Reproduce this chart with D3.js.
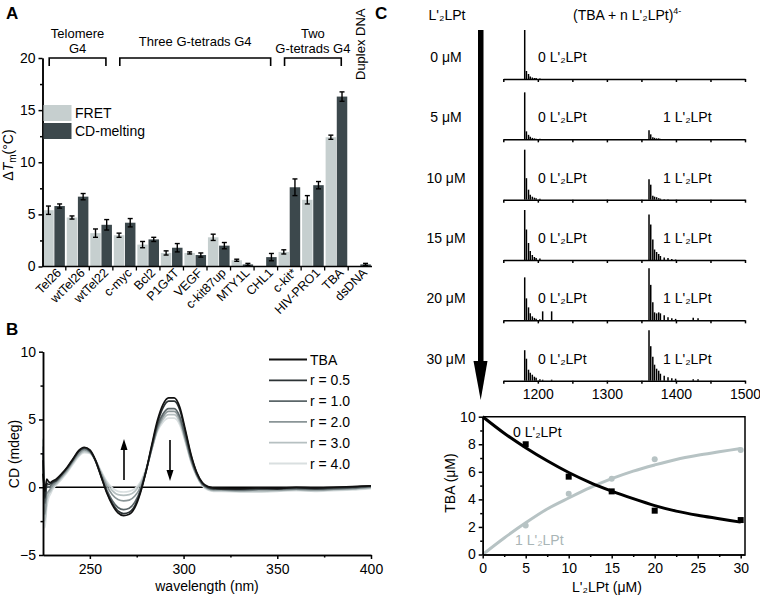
<!DOCTYPE html>
<html><head><meta charset="utf-8">
<script src="https://cdn.jsdelivr.net/npm/d3@7"></script>
<style>
body{margin:0;background:#fff}
svg{font-family:"Liberation Sans",Arial,sans-serif}
.ax path,.ax line{stroke:#000;stroke-width:1.5}
.ax text{font-size:14px;fill:#000;font-family:"Liberation Sans",Arial,sans-serif}
</style>
</head><body><svg id="c" width="760" height="597"></svg>
<script>
// ---------- Panel A data ----------
const categoriesA = ["Tel26","wtTel26","wtTel22","c-myc","Bcl2","P1G4T","VEGF","c-kit87up","MTY1L","CHL1","c-kit*","HIV-PRO1","TBA","dsDNA"];
const fretValues = [5.4,4.7,3.2,3.0,2.1,1.3,1.3,2.8,0.6,0.05,1.4,6.4,12.4,0];
const fretErrors = [0.4,0.15,0.4,0.2,0.3,0.2,0.1,0.3,0.1,0,0.2,0.4,0.2,0];
const cdValues   = [5.8,6.7,4.0,4.2,2.6,1.8,1.1,2.0,0.2,0.9,7.6,7.8,16.3,0.2];
const cdErrors   = [0.2,0.3,0.5,0.4,0.2,0.4,0.2,0.3,0.1,0.35,0.8,0.35,0.45,0.1];
const yTicksA = [0,5,10,15,20];
const groupsA = [
  {label:["Telomere","G4"], first:"Tel26", last:"wtTel22"},
  {label:["Three G-tetrads G4"], first:"c-myc", last:"CHL1"},
  {label:["Two","G-tetrads G4"], first:"c-kit*", last:"TBA"}
];
const duplexLabel = "Duplex DNA";
const seriesA = ["FRET","CD-melting"];

// ---------- Panel B data ----------
const wavelengths = [225,226,227,228,229,230,232,235,238,241,244,247,250,253,256,259,262,265,268,271,274,277,280,283,286,289,292,295,298,301,304,307,310,313,316,320,330,340,350,360,370,380,390,400];
const cdTBA = [1.0,-0.3,0.6,0.4,0.35,0.45,0.6,1.0,1.5,2.1,2.7,2.95,2.75,2.0,0.8,-0.4,-1.3,-1.9,-2.1,-2.0,-1.5,-0.4,1.2,3.1,4.9,6.1,6.6,6.6,5.9,4.2,2.4,1.1,0.35,0.05,-0.05,-0.1,-0.1,-0.05,-0.1,0.0,-0.05,0.0,0.05,0.1];
const cdR05 = [2.0,-0.8,0.3,0.2,0.25,0.35,0.5,0.95,1.45,2.05,2.65,2.9,2.7,1.95,0.8,-0.35,-1.2,-1.75,-1.95,-1.85,-1.35,-0.3,1.2,3.0,4.7,5.85,6.35,6.35,5.7,4.05,2.3,1.05,0.3,0.0,-0.1,-0.1,-0.15,-0.1,-0.1,-0.05,-0.1,-0.05,0.0,0.1];
const cdR10 = [2.5,-1.2,0.1,0.0,0.1,0.25,0.45,0.9,1.4,2.0,2.6,2.85,2.65,1.95,0.85,-0.2,-1.0,-1.5,-1.65,-1.55,-1.1,-0.2,1.2,2.9,4.5,5.4,5.8,5.8,5.2,3.7,2.1,0.95,0.25,-0.05,-0.15,-0.15,-0.2,-0.15,-0.15,-0.1,-0.15,-0.1,-0.05,0.05];
const cdR20 = [3.0,-2.0,-0.5,-0.3,-0.1,0.1,0.35,0.8,1.3,1.9,2.45,2.75,2.6,2.0,1.0,0.1,-0.55,-0.9,-1.0,-0.95,-0.65,0.0,1.2,2.8,4.3,5.2,5.6,5.6,5.0,3.55,2.0,0.9,0.2,-0.1,-0.2,-0.2,-0.25,-0.2,-0.2,-0.15,-0.2,-0.15,-0.1,0.0];
const cdR30 = [3.5,-2.5,-1.0,-0.5,-0.3,-0.05,0.25,0.7,1.2,1.8,2.35,2.65,2.55,2.0,1.1,0.3,-0.25,-0.55,-0.6,-0.55,-0.3,0.25,1.3,2.8,4.2,5.0,5.35,5.35,4.8,3.4,1.9,0.85,0.15,-0.15,-0.25,-0.25,-0.3,-0.3,-0.25,-0.2,-0.25,-0.2,-0.15,-0.05];
const cdR40 = [3.6,-3.0,-1.5,-0.8,-0.5,-0.2,0.15,0.6,1.1,1.7,2.25,2.55,2.5,2.0,1.2,0.45,-0.05,-0.3,-0.35,-0.3,-0.1,0.4,1.4,2.8,4.1,4.8,5.1,5.1,4.6,3.3,1.85,0.8,0.1,-0.2,-0.3,-0.3,-0.35,-0.35,-0.3,-0.25,-0.3,-0.25,-0.2,-0.1];
const seriesBNames = ["TBA","r = 0.5","r = 1.0","r = 2.0","r = 3.0","r = 4.0"];
const seriesBValues = [cdTBA,cdR05,cdR10,cdR20,cdR30,cdR40];
const seriesBColors = ["#111111","#2c3335","#5b6669","#8a9597","#b6c0c1","#d9dfe0"];
const yTicksB = [-5,0,5,10];
const xTicksB = [250,300,350,400];

// ---------- Panel C (top) data ----------
const concLabels = ["0 \u03bcM","5 \u03bcM","10 \u03bcM","15 \u03bcM","20 \u03bcM","30 \u03bcM"];
const mzTicks = [1150,1200,1250,1300,1350,1400,1450,1500];
const mzLabels = [1200,1300,1400,1500];
const peakMz = [1181,1183.5,1186.5,1189,1192,1195,1197.5,1203,1207,1220,1361,1363.5,1366.5,1369,1372,1375,1377.5,1383,1388.5,1394,1399.5,1425,1432];
const int0uM  = [98,16,10,5,3,2,2,1,0,0, 0,0,0,0,0,0,0,0,0,0,0,0,0];
const int5uM  = [94,16,9,5,3,2,1,1,0,0, 18,10,4,3,2,2,1,0,0,0,0,0,0];
const int10uM = [100,43,20,10,6,4,3,2,0,0, 41,30,8,6,5,3,2,1,1,0,0,0,0];
const int15uM = [100,61,34,18,10,6,4,3,0,0, 91,71,41,21,16,12,8,5,4,2,1,0,0];
const int20uM = [86,44,26,14,8,5,3,2,18,18, 104,71,36,16,14,16,14,10,6,4,3,5,4];
const int30uM = [61,44,22,16,12,8,6,3,2,2, 101,69,48,32,24,20,14,10,7,5,4,3,3];
const spectra = [int0uM,int5uM,int10uM,int15uM,int20uM,int30uM];

// ---------- Panel C (bottom) data ----------
const ligandConc = [5,10,15,20,30];
const tba0 = [8.0,5.65,4.58,3.18,2.5];
const tba1 = [2.1,4.41,5.49,6.92,7.59];
const fitX  = [0,2.5,5,7.5,10,12.5,15,17.5,20,22.5,25,27.5,30];
const fit0  = [10,8.8,7.75,6.8,5.95,5.22,4.6,4.05,3.55,3.15,2.85,2.6,2.35];
const fit1  = [0,1.2,2.3,3.3,4.1,4.85,5.5,6.05,6.5,6.9,7.2,7.45,7.7];
const xTicksC = [0,5,10,15,20,25,30];
const yTicksC = [0,2,4,6,8,10];

const FONT = '"Liberation Sans",Arial,sans-serif';
const svg = d3.select("#c");
function txt(x,y,s,opts={}){
  const t = svg.append("text").attr("x",x).attr("y",y).text(s)
    .attr("font-size",opts.size||14).attr("fill",opts.fill||"#000")
    .attr("text-anchor",opts.anchor||"start").attr("font-family",FONT);
  if(opts.weight) t.attr("font-weight",opts.weight);
  return t;
}

// ================= PANEL A =================
const FRET_C = "#c6cfcf", CD_C = "#3c484c";
txt(6,19,"A",{size:17,weight:"bold"});
const xA = d3.scaleBand().domain(categoriesA).range([42.5,371.5]).paddingInner(0.08).paddingOuter(0.03);
const xA1 = d3.scaleBand().domain(seriesA).range([0,xA.bandwidth()]).paddingInner(0.06);
const yA = d3.scaleLinear().domain([0,20]).range([266.5,58]);

const gA = svg.append("g");
categoriesA.forEach((c,i)=>{
  [[fretValues[i],fretErrors[i],"FRET",FRET_C],[cdValues[i],cdErrors[i],"CD-melting",CD_C]].forEach(([v,e,s,col])=>{
    const x = xA(c)+xA1(s), w = xA1.bandwidth();
    gA.append("rect").attr("x",x).attr("y",yA(v)).attr("width",w).attr("height",yA(0)-yA(v)).attr("fill",col);
    if(e>0){
      const cx = x+w/2;
      gA.append("line").attr("x1",cx).attr("x2",cx).attr("y1",yA(v-e)).attr("y2",yA(v+e)).attr("stroke","#000").attr("stroke-width",1.4);
      [v-e,v+e].forEach(t=>gA.append("line").attr("x1",cx-2.5).attr("x2",cx+2.5).attr("y1",yA(t)).attr("y2",yA(t)).attr("stroke","#000").attr("stroke-width",1.4));
    }
  });
});
// y axis
svg.append("g").attr("class","ax").attr("transform","translate(42.5,0)")
  .call(d3.axisLeft(yA).tickValues(yTicksA).tickSize(4).tickSizeOuter(0).tickPadding(3));
svg.append("g").attr("class","ax").attr("transform","translate(42.5,0)")
  .call(d3.axisLeft(yA).tickValues([2.5,7.5,12.5,17.5]).tickSize(2.5).tickSizeOuter(0).tickFormat(""));
// x axis
svg.append("line").attr("x1",42.5).attr("x2",372).attr("y1",yA(0)).attr("y2",yA(0)).attr("stroke","#000").attr("stroke-width",1.5);
const stepA = xA.step();
categoriesA.forEach((c,i)=>{
  if(i>0){
    const bx = xA(c)-stepA*0.04;
    svg.append("line").attr("x1",bx).attr("x2",bx).attr("y1",yA(0)).attr("y2",yA(0)+4).attr("stroke","#000").attr("stroke-width",1.3);
  }
  const cx = xA(c)+xA.bandwidth()/2;
  svg.append("text").attr("transform",`translate(${cx+8},${yA(0)+7}) rotate(-45)`)
    .attr("text-anchor","end").attr("font-size",12.5).attr("font-family",FONT).text(c);
});
// y label
const yl = svg.append("text").attr("transform","translate(13,155) rotate(-90)").attr("text-anchor","middle")
  .attr("font-size",14).attr("font-family",FONT);
yl.append("tspan").text("\u0394");
yl.append("tspan").attr("font-style","italic").text("T");
yl.append("tspan").attr("font-size",10).attr("dy",3).text("m");
yl.append("tspan").attr("dy",-3).text("(\u00b0C)");
// legend
seriesA.forEach((s,i)=>{
  svg.append("rect").attr("x",43.5).attr("y",105+i*18).attr("width",28).attr("height",16).attr("fill",i?CD_C:FRET_C);
  txt(75,118+i*18,s,{size:14});
});
// group brackets
groupsA.forEach(g=>{
  const x0 = xA(g.first)+6, x1 = xA(g.last)+xA.bandwidth()-6;
  svg.append("path").attr("d",`M${x0},66V58H${x1}V66`).attr("fill","none").attr("stroke","#000").attr("stroke-width",1.6);
  const mid = (x0+x1)/2;
  if(g.label.length===2){ txt(mid,38,g.label[0],{anchor:"middle",size:13}); txt(mid,53,g.label[1],{anchor:"middle",size:13}); }
  else txt(mid,46,g.label[0],{anchor:"middle",size:13});
});
svg.append("text").attr("transform","translate(365,80) rotate(-90)").attr("font-size",13).attr("font-family",FONT).text(duplexLabel);

// ================= PANEL B =================
txt(6,335,"B",{size:17,weight:"bold"});
const xB = d3.scaleLinear().domain([225,400]).range([43,371]);
const yB = d3.scaleLinear().domain([-5,10]).range([555,351.7]);
svg.append("line").attr("x1",xB(225)).attr("x2",xB(400)).attr("y1",yB(0)).attr("y2",yB(0)).attr("stroke","#000").attr("stroke-width",1.4);
const lineB = d3.line().x((d,i)=>xB(wavelengths[i])).y(d=>yB(d)).curve(d3.curveMonotoneX);
for(let k=seriesBValues.length-1;k>=0;k--){
  svg.append("path").attr("d",lineB(seriesBValues[k])).attr("fill","none").attr("stroke",seriesBColors[k]).attr("stroke-width",1.7);
}
svg.append("g").attr("class","ax").attr("transform","translate(43,0)")
  .call(d3.axisLeft(yB).tickValues(yTicksB).tickSize(4).tickSizeOuter(0).tickPadding(3));
svg.append("g").attr("class","ax").attr("transform","translate(43,0)")
  .call(d3.axisLeft(yB).tickValues([-2.5,2.5,7.5]).tickSize(2.5).tickSizeOuter(0).tickFormat(""));
svg.append("g").attr("class","ax").attr("transform","translate(0,555)")
  .call(d3.axisBottom(xB).tickValues(xTicksB).tickSize(4).tickSizeOuter(0).tickPadding(5));
svg.append("g").attr("class","ax").attr("transform","translate(0,555)")
  .call(d3.axisBottom(xB).tickValues([275,325,375]).tickSize(2.5).tickSizeOuter(0).tickFormat(""));
svg.append("text").attr("transform","translate(19,454) rotate(-90)").attr("text-anchor","middle").attr("font-size",14).attr("font-family",FONT).text("CD (mdeg)");
txt(207,591,"wavelength (nm)",{anchor:"middle",size:14});
// arrows
function arrow(x,yFrom,yTo){
  const dir = yTo<yFrom?-1:1;
  svg.append("line").attr("x1",x).attr("x2",x).attr("y1",yFrom).attr("y2",yTo-dir*10).attr("stroke","#000").attr("stroke-width",1.6);
  svg.append("path").attr("d",`M${x-3.5},${yTo-dir*11}L${x+3.5},${yTo-dir*11}L${x},${yTo}Z`).attr("fill","#000");
}
arrow(124,480,439);
arrow(170,440,481);
// legend B
seriesBNames.forEach((n,i)=>{
  const y = 359.5+i*20.8;
  svg.append("line").attr("x1",269).attr("x2",307).attr("y1",y).attr("y2",y).attr("stroke",seriesBColors[i]).attr("stroke-width",1.8);
  txt(310,y+5,n,{size:14});
});

// ================= PANEL C (top) =================
txt(375,19,"C",{size:17,weight:"bold"});
const C1 = "L'\u2082LPt";
txt(447,20,C1,{anchor:"middle",size:14});
const tt = txt(573,20,"(TBA + n "+C1+")",{size:14});
tt.append("tspan").attr("font-size",9).attr("dy",-6).text("4-");
// big arrow
svg.append("rect").attr("x",478).attr("y",30).attr("width",5.5).attr("height",333).attr("fill","#000");
svg.append("path").attr("d","M473.5,361L487.5,361L480.7,400Z").attr("fill","#000");
const xMz = d3.scaleLinear().domain([1150,1500]).range([503.3,745]);
const rowY = d3.scaleLinear().domain([0,5]).range([79,380.7]);
const hScale = d3.scaleLinear().domain([0,100]).range([0,50]);
spectra.forEach((ints,r)=>{
  const base = rowY(r);
  const g = svg.append("g");
  peakMz.forEach((m,j)=>{
    if(ints[j]>0) g.append("line").attr("x1",xMz(m)).attr("x2",xMz(m)).attr("y1",base).attr("y2",base-hScale(ints[j])).attr("stroke","#000").attr("stroke-width",1.5);
  });
  svg.append("g").attr("class","ax").attr("transform",`translate(0,${base})`)
    .call(d3.axisBottom(xMz).tickValues(mzTicks).tickSize(3).tickSizeOuter(0).tickPadding(5)
      .tickFormat(d=> (r===5 && mzLabels.includes(d)) ? d : ""));
  txt(446,base-17,concLabels[r],{anchor:"middle",size:14});
  txt(538,base-17,"0 "+C1,{size:14});
  if(r>0) txt(663,base-17,"1 "+C1,{size:14});
});

// ================= PANEL C (bottom) =================
const xC = d3.scaleLinear().domain([0,30.5]).range([482.7,745]);
const yC = d3.scaleLinear().domain([0,10]).range([554.5,416.7]);
svg.append("path").attr("d",`M${xC(0)},${yC(10)}H${xC(30.5)}V${yC(0)}`).attr("fill","none").attr("stroke","#000").attr("stroke-width",1.5);
const LIGHT = "#b7c3c4";
const lineC = d3.line().x((d,i)=>xC(fitX[i])).y(d=>yC(d)).curve(d3.curveMonotoneX);
svg.append("path").attr("d",lineC(fit1)).attr("fill","none").attr("stroke",LIGHT).attr("stroke-width",3);
svg.append("path").attr("d",lineC(fit0)).attr("fill","none").attr("stroke","#000").attr("stroke-width",3);
ligandConc.forEach((c,i)=>{
  svg.append("rect").attr("x",xC(c)-3).attr("y",yC(tba0[i])-3).attr("width",6).attr("height",6).attr("fill","#000");
  svg.append("circle").attr("cx",xC(c)).attr("cy",yC(tba1[i])).attr("r",3).attr("fill",LIGHT);
});
svg.append("g").attr("class","ax").attr("transform",`translate(${xC(0)},0)`)
  .call(d3.axisLeft(yC).tickValues(yTicksC).tickSize(4).tickSizeOuter(0).tickPadding(3));
svg.append("g").attr("class","ax").attr("transform",`translate(${xC(0)},0)`)
  .call(d3.axisLeft(yC).tickValues([1,3,5,7,9]).tickSize(2.5).tickSizeOuter(0).tickFormat(""));
svg.append("g").attr("class","ax").attr("transform",`translate(0,${yC(0)})`)
  .call(d3.axisBottom(xC).tickValues(xTicksC).tickSize(4).tickSizeOuter(0).tickPadding(5));
svg.append("g").attr("class","ax").attr("transform",`translate(0,${yC(0)})`)
  .call(d3.axisBottom(xC).tickValues([2.5,7.5,12.5,17.5,22.5,27.5]).tickSize(2.5).tickSizeOuter(0).tickFormat(""));
svg.append("text").attr("transform","translate(455,483) rotate(-90)").attr("text-anchor","middle").attr("font-size",14).attr("font-family",FONT).text("TBA (\u03bcM)");
txt(607,592,C1+" (\u03bcM)",{anchor:"middle",size:14});
txt(513,437,"0 "+C1,{size:14});
txt(515,545,"1 "+C1,{size:14,fill:"#a9b5b6"});
</script>
</body></html>
